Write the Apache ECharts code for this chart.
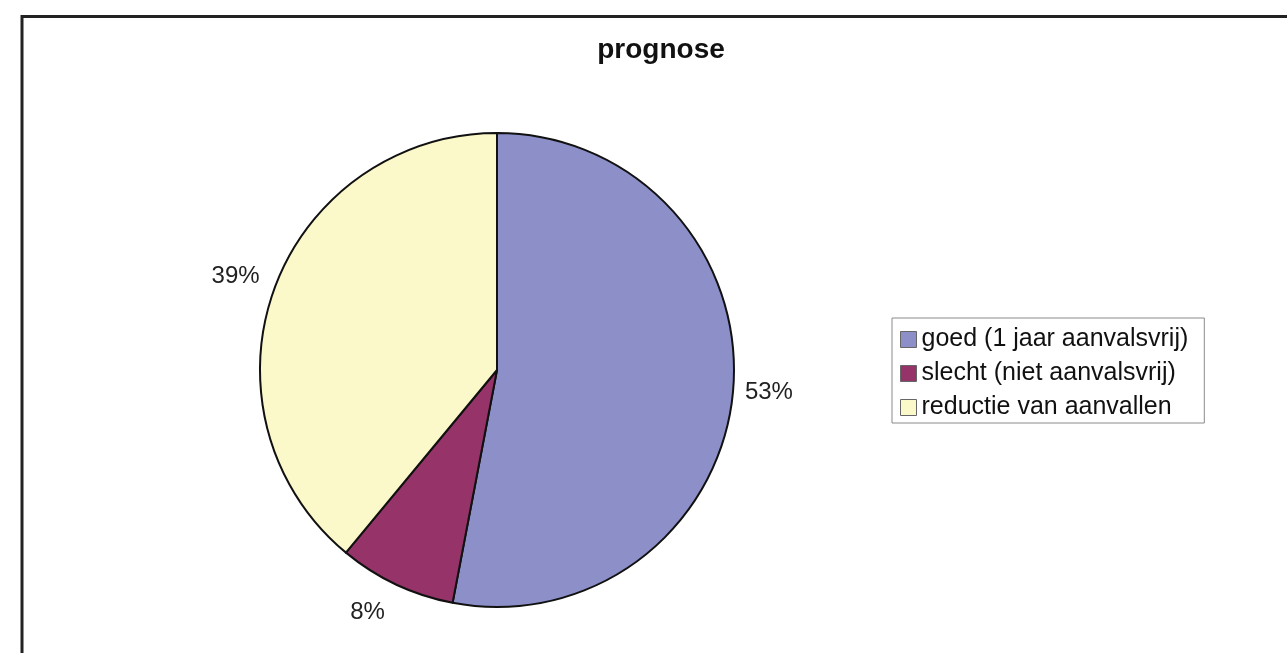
<!DOCTYPE html>
<html><head><meta charset="utf-8">
<script src="https://cdn.jsdelivr.net/npm/echarts@6/dist/echarts.min.js"></script>
<style>html,body{margin:0;padding:0;background:#fff}#c{width:1287px;height:653px}</style>
</head><body><div id="c"></div>
<script>
const titleText = 'prognose';
const categories = ['goed (1 jaar aanvalsvrij)', 'slecht (niet aanvalsvrij)', 'reductie van aanvallen'];
const values = [53, 8, 39];
const colors = ['#8C8FC8', '#96346A', '#FBF8CA'];

const font = "'Liberation Sans', Arial, sans-serif";
// label line length, length2, distance, vertical nudge
const lineLens = [[5, 2, 5, 0], [31, 0, -2, 0], [10, 0, 5, -10]];

const chart = echarts.init(document.getElementById('c'), null, {renderer: 'canvas'});
chart.setOption({
  animation: false,
  backgroundColor: '#fff',
  graphic: [{
    type: 'rect', left: 19.5, top: 14, z: -1,
    shape: {x: 0, y: 0, width: 1300, height: 700},
    style: {fill: 'none', stroke: '#222', lineWidth: 3}
  }],
  title: {
    text: titleText, left: 656, top: 31, textAlign: 'center',
    textStyle: {fontFamily: font, fontSize: 28, fontWeight: 'bold', color: '#111'}
  },
  legend: {
    orient: 'vertical', left: 892, top: 318,
    padding: [9, 16, 3, 8],
    borderColor: '#8a8a8a', borderWidth: 1,
    itemWidth: 16, itemHeight: 16, itemGap: 9,
    icon: 'rect',
    itemStyle: {borderColor: '#666', borderWidth: 1},
    textStyle: {fontFamily: font, fontSize: 25, color: '#111'},
    data: categories
  },
  series: [{
    type: 'pie',
    center: [497, 370], radius: 237,
    startAngle: 90, clockwise: true,
    avoidLabelOverlap: false,
    itemStyle: {borderColor: '#111', borderWidth: 2},
    label: {
      show: true, position: 'outside',
      formatter: '{d}%', fontFamily: font, fontSize: 24, color: '#222'
    },
    labelLine: {show: false},
    labelLayout: function (p) { return {dy: lineLens[p.dataIndex][3]}; },
    emphasis: {disabled: true},
    data: categories.map((n, i) => ({
      name: n, value: values[i],
      itemStyle: {color: colors[i]},
      label: {distanceToLabelLine: lineLens[i][2]},
      labelLine: {show: false, length: lineLens[i][0], length2: lineLens[i][1]}
    }))
  }]
});
</script></body></html>
